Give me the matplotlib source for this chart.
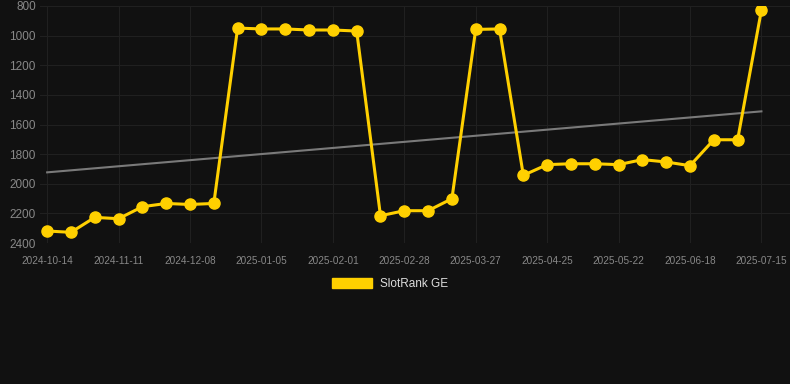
import numpy as np
import matplotlib
matplotlib.use("Agg")
import matplotlib.pyplot as plt
from matplotlib.patches import Patch

# rank values, one point every ~9 days (31 points)
ranks = [2319, 2328, 2227, 2236, 2155, 2133, 2140, 2133,
         949, 955, 955, 962, 962, 969,
         2216, 2182, 2182, 2101, 958, 955,
         1943, 1871, 1865, 1865, 1871, 1837, 1853, 1878,
         1703, 1703, 827]
tick_labels = ["2024-10-14", "2024-11-11", "2024-12-08", "2025-01-05",
               "2025-02-01", "2025-02-28", "2025-03-27", "2025-04-25",
               "2025-05-22", "2025-06-18", "2025-07-15"]
series_name = "SlotRank GE"

bg = "#111111"
gold = "#FFD000"

x = np.arange(len(ranks))
y = np.array(ranks)

fig = plt.figure(figsize=(7.9, 3.84), dpi=100, facecolor=bg)
ax = fig.add_axes([40/790, 1-243/384, 750/790, 237/384], facecolor=bg)

# trend line (least squares fit)
k, b = np.polyfit(x, y, 1)
ax.plot(x, k*x+b, color="#7a7a7a", lw=1.5, zorder=2)

ax.plot(x, y, color=gold, lw=2.2, marker="o", ms=8, zorder=3)

ax.set_ylim(2400, 800)
ax.set_yticks(np.arange(800, 2401, 200))
ax.set_xlim(-0.3, 31.2)
ax.set_xticks(np.arange(0, len(ranks), 3))
ax.set_xticklabels(tick_labels)

ax.grid(True, color="#202020", lw=0.8)
for s in ax.spines.values():
    s.set_visible(False)
ax.tick_params(axis="both", length=0, colors="#888888")
ax.tick_params(axis="y", labelsize=8.5, pad=3)
ax.tick_params(axis="x", labelsize=7.2, pad=9)
for t in ax.get_xticklabels() + ax.get_yticklabels():
    t.set_fontfamily("Liberation Sans")

fig.legend(handles=[Patch(facecolor=gold, edgecolor=gold)], labels=[series_name],
           loc="center", bbox_to_anchor=(390/790, 1-284/384), frameon=False,
           handlelength=3.4, handleheight=0.9, handletextpad=0.6,
           prop={"family": "Liberation Sans", "size": 8.5}, labelcolor="#dddddd")

fig.savefig("out.png", dpi=100, facecolor=bg)
